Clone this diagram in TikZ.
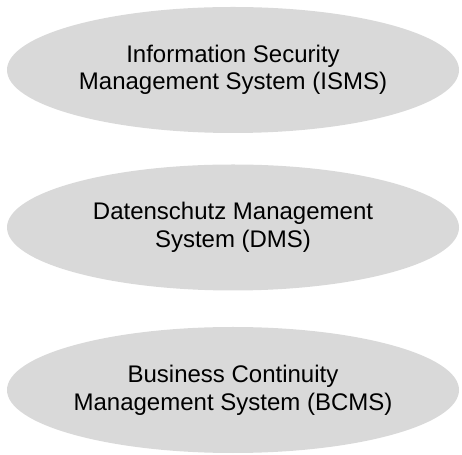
\documentclass[tikz,border=0pt]{standalone}
\usepackage{fontspec}
\setmainfont{Liberation Sans}
\usetikzlibrary{shapes.geometric}
\definecolor{ovalgray}{HTML}{D9D9D9}
\begin{document}
\begin{tikzpicture}[x=1pt,y=1pt,
  oval/.style={ellipse, fill=ovalgray, draw=none, inner sep=0pt,
    minimum width=452pt, minimum height=126pt, align=center,
    font=\fontsize{24}{27.6}\selectfont, text=black}]
  \useasboundingbox (0,0) rectangle (462,454);
  \node[oval] (isms) at (233,384) {Information Security\\Management System (ISMS)};
  \node[oval] (dms)  at (233,226.5) {Datenschutz Management\\System (DMS)};
  \node[oval] (bcms) at (233,64) {Business Continuity\\Management System (BCMS)};
\end{tikzpicture}
\end{document}
